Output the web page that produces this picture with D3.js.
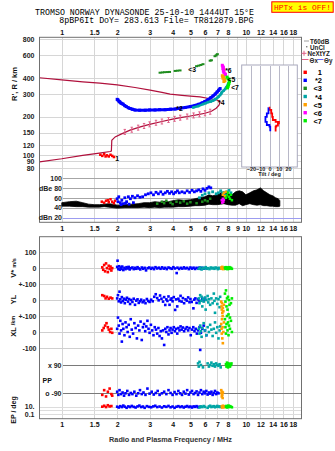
<!DOCTYPE html>
<html><head><meta charset="utf-8">
<script src="https://cdn.jsdelivr.net/npm/d3@7"></script>
<style>
html,body{margin:0;padding:0;background:#fff;}
svg{display:block;}
</style></head><body>
<svg id="c" width="335" height="451"></svg>
<script>
// ---------------- DATA ----------------
const titleLine1 = "TROMSO NORWAY   DYNASONDE 25-10-10 1444UT 15\u00B0E";
const titleLine2 = "8pBP6It DoY= 283.613 File= TR812879.BPG";
const warnText = "HPTx is OFF!";
const freqTicksOuter = [1,1.5,2,3,4,5,6,7,8,10,12,14,16,18];
const freqTicksMid = [1,1.5,2,3,4,5,6,7,8,9,10,12,14,16,18];
const heightTicks = [80,90,100,120,150,200,300,400,600,800];
const dbTicks = [100,80,60,40,20];
const dbLabels = {100:"100",80:"dBe 80",60:"60",40:"40",20:"dBn 20"};
const tiltTicks = [-20,-10,0,10,20];
const traceNames = ["1","*2","<3","*4","<5","<6","<7"];
const traceColors = ["#ff0000","#0000ff","#1e8c1e","#00a5a5","#ffa000","#ff00ff","#00ee00"];

// ionogram (freq MHz, height km)
const profileLower = [[0.757,89],[1.0,94],[1.3,100],[1.6,104],[1.83,107],[1.86,108],[1.87,131],[1.95,139],[2.1,146],[2.35,157],[2.7,167],[3.0,174],[3.5,183],[4.0,191],[4.5,197],[5.0,202],[5.5,207],[6.0,212],[6.5,220],[6.9,232],[7.15,245],[7.25,261]];
const profileUpper = [[0.757,400],[1.0,385],[1.3,372],[1.61,364],[2.0,352],[2.5,336],[3.02,321],[3.5,308],[3.88,299],[4.5,292],[5.0,288],[5.64,284],[6.3,276],[6.96,269],[7.25,261]];
const profileMarks = [[2.2,152],[2.4,158],[2.6,164],[2.8,169],[3.0,174],[3.25,179],[3.5,183],[3.8,188],[4.1,192],[4.4,196],[4.8,200],[5.2,204],[5.6,208],[6.0,212],[6.4,218]];
const ionoRed = [[1.62,101],[1.66,99],[1.7,102],[1.73,98],[1.76,100],[1.8,98],[1.84,101],[1.88,99],[1.92,97]];
const ionoBlue = [[2.0,272],[2.02,269],[2.05,262],[2.07,259],[2.1,254],[2.15,250],[2.2,243],[2.24,239],[2.3,234],[2.35,231],[2.42,228],[2.5,225],[2.65,224],[2.84,224],[3.0,225],[3.21,225],[3.4,226],[3.64,226],[3.9,228],[4.13,229],[4.4,232],[4.68,235],[5.0,239],[5.3,244],[5.55,249],[5.79,255],[6.0,262],[6.24,271],[6.45,280],[6.64,289],[6.82,299],[6.98,310],[7.12,320],[7.25,330]];
const ionoGreen = [[3.42,438],[3.52,440],[3.62,442],[3.75,443],[3.85,444],[4.13,452],[4.25,454],[4.39,456],[5.4,492],[5.55,497],[5.7,503],[5.85,510],[6.4,543],[6.5,547],[6.8,588],[6.9,598],[7.0,610]];
const ionoTeal = [[5.17,235],[5.51,241],[5.86,250],[6.05,254],[6.24,259],[6.45,262],[6.64,266],[6.8,272],[6.98,279],[7.12,286],[7.25,294],[7.35,302],[7.42,310],[7.58,318],[7.72,327],[7.82,336],[7.92,345],[8.0,355],[8.05,364]];
const ionoOrange = [[7.45,415],[7.5,408],[7.6,402],[7.52,396],[7.65,388],[7.7,380],[7.6,374]];
const ionoMagenta = [[7.45,500],[7.5,490],[7.55,480],[7.5,470],[7.6,460],[7.55,450],[7.6,440],[7.7,430],[7.75,424]];
const ionoLime = [[7.9,405],[8.0,396],[8.1,386],[8.15,374],[8.1,362],[8.05,352],[8.0,342],[7.95,334]];
const ionoLabels = [[1.95,90,"1"],[4.19,221,"*2"],[4.86,443,"<3"],[7.07,246,"*4"],[7.72,432,"*6"],[7.96,374,"<5"],[8.32,324,"<7"]];

// tilt inset (height km, tilt deg)
const tiltX = [[234,-0.8],[225,0],[212,1.9],[199,2.9],[188,3.6],[182,6.6],[177,10.2],[170,9.1],[167,7.3],[153,6.6]];
const tiltY = [[232,-0.8],[212,-1.1],[199,-2.9],[194,-4.4],[182,-4.4],[172,-2.9],[167,0],[154,0.8]];

// amplitude panel: noise envelope (freq, low dB, high dB)
const noise = [[1.0,43,50],[1.1,43,52],[1.2,42,53],[1.3,42,50],[1.4,41,47],[1.5,41,46],[1.6,41,46],[1.7,42,47],[1.8,41,48],[1.9,40,47],[2.0,39,45],[2.2,40,46],[2.4,40,47],[2.6,40,48],[2.8,41,50],[3.0,40,50],[3.2,41,52],[3.4,40,51],[3.6,41,53],[3.8,41,52],[4.0,41,54],[4.3,42,56],[4.6,42,55],[5.0,43,56],[5.3,44,58],[5.6,44,60],[6.0,45,62],[6.3,47,66],[6.6,46,64],[7.0,46,66],[7.3,47,70],[7.6,48,72],[8.0,46,68],[8.4,45,66],[8.8,45,72],[9.2,48,74],[9.6,44,72],[10.0,46,66],[10.5,48,70],[11.0,46,74],[11.5,45,76],[12.0,46,80],[12.5,44,74],[13.0,44,70],[13.5,43,66],[14.0,43,64],[14.5,42,60],[15.0,42,58],[15.3,43,54]];
const dbRed = [[1.65,52],[1.7,50],[1.74,54],[1.78,55],[1.8,51],[1.84,57],[1.88,52],[1.92,49],[1.95,54]];
const dbBlue = [[2.0,58],[2.02,52],[2.04,62],[2.08,50],[2.1,46],[2.12,55],[2.16,48],[2.2,60],[2.22,49],[2.25,52],[2.3,62],[2.32,47],[2.36,58],[2.42,63],[2.45,50],[2.5,60],[2.58,64],[2.66,61],[2.75,62],[2.85,66],[2.95,68],[3.05,70],[3.15,66],[3.25,71],[3.35,68],[3.45,72],[3.55,67],[3.65,70],[3.75,73],[3.85,69],[3.95,72],[4.05,68],[4.15,71],[4.25,74],[4.35,70],[4.5,72],[4.65,70],[4.8,74],[4.95,71],[5.1,75],[5.25,72],[5.4,74],[5.55,76],[5.7,73],[5.85,78],[6.0,75],[6.15,79],[6.3,82],[6.45,80]];
const dbGreen = [[3.3,48],[3.5,52],[3.6,49],[3.7,54],[3.9,50],[4.0,47],[4.2,52],[4.4,50],[4.6,53],[4.8,48],[5.0,51],[5.4,49],[5.8,52],[6.0,55],[6.2,53],[6.4,58]];
const dbTeal = [[5.6,60],[5.8,65],[6.0,68],[6.3,70],[6.6,72],[6.9,68],[7.1,70],[7.3,74],[7.5,70],[7.7,66],[7.9,72],[8.1,75],[8.3,70]];
const dbMagenta = [[7.4,55],[7.45,50],[7.5,58],[7.55,52],[7.6,56]];
const dbOrange = [[7.5,66],[7.6,70],[7.7,63],[7.8,72]];
const dbLime = [[7.8,60],[7.9,65],[8.0,70],[8.1,62],[8.2,58],[8.3,66],[8.4,55]];

// lower panel: V* (m/s), YL, XL (km), PP (deg), EP (deg)
const vRed = [[1.66,5],[1.68,-10],[1.7,20],[1.72,-20],[1.74,30],[1.76,0],[1.78,-25],[1.8,15],[1.82,-5],[1.84,10],[1.86,-15],[1.88,0]];
const vBlue = [[2.0,8],[2.01,47],[2.03,-6],[2.05,12],[2.07,-10],[2.09,4],[2.11,-4],[2.13,10],[2.16,-12],[2.19,2],[2.22,-6],[2.25,6],[2.28,-2],[2.31,8],[2.34,-8],[2.38,0],[2.42,4],[2.46,-6],[2.5,2],[2.54,-4],[2.58,6],[2.62,-2],[2.67,-8],[2.72,4],[2.77,-4],[2.82,2],[2.87,-14],[2.93,0],[2.99,4],[3.05,-4],[3.11,2],[3.17,-6],[3.23,6],[3.3,-2],[3.37,3],[3.44,-4],[3.51,5],[3.58,-3],[3.65,2],[3.72,-6],[3.8,4],[3.88,0],[3.96,-4],[4.04,6],[4.12,-2],[4.21,-31],[4.25,3],[4.34,-5],[4.43,2],[4.52,-3],[4.61,5],[4.7,-2],[4.8,2],[4.9,-6],[5.0,4],[5.1,-3],[5.2,3],[5.3,-5],[5.4,2],[5.5,-2],[5.6,4],[5.7,-4],[5.8,2],[5.9,-3],[6.0,0]];
const vTeal = [[5.55,-4],[5.65,4],[5.75,-8],[5.85,2],[5.95,-2],[6.05,6],[6.15,-4],[6.25,0],[6.35,-6],[6.45,4],[6.55,-2],[6.65,2],[6.75,-4],[6.85,4],[6.95,0],[7.05,-6],[7.15,2],[7.25,-2]];
const vOrange = [[7.35,4],[7.4,-4],[7.45,8],[7.5,0],[7.55,-6],[7.6,2]];
const vLime = [[7.7,4],[7.75,-4],[7.8,6],[7.85,-2],[7.9,2],[7.95,-6],[8.0,4],[8.05,0],[8.1,-4],[8.15,6],[8.2,-2],[8.3,2],[8.4,-4]];

const ylRed = [[1.66,30],[1.7,25],[1.73,10],[1.76,20],[1.8,8],[1.84,15],[1.88,10]];
const ylBlue = [[2.0,10],[2.02,30],[2.04,-8],[2.06,52],[2.08,4],[2.1,-15],[2.12,18],[2.15,-6],[2.18,8],[2.2,-20],[2.23,2],[2.26,14],[2.29,-10],[2.32,6],[2.35,-25],[2.38,0],[2.42,-12],[2.46,8],[2.5,-30],[2.54,-4],[2.58,4],[2.62,-18],[2.66,-8],[2.7,2],[2.75,-14],[2.8,-4],[2.85,-20],[2.9,6],[2.95,-6],[3.0,-12],[3.06,2],[3.12,-8],[3.18,20],[3.24,36],[3.3,12],[3.36,-2],[3.42,28],[3.48,8],[3.55,-10],[3.6,18],[3.65,-31],[3.7,4],[3.75,-6],[3.8,22],[3.85,-30],[3.9,2],[3.95,10],[4.0,-8],[4.06,18],[4.13,-62],[4.18,4],[4.24,-40],[4.3,8],[4.36,-6],[4.42,26],[4.48,-10],[4.55,12],[4.62,-20],[4.7,4],[4.78,-4],[4.86,16],[4.94,-14],[5.0,6],[5.08,-12],[5.19,-52],[5.24,2],[5.32,10],[5.4,-18],[5.5,4],[5.6,-6],[5.8,8],[5.9,-4],[6.0,12]];
const ylTeal = [[5.55,10],[5.6,-20],[5.65,30],[5.7,-5],[5.75,20],[5.8,-40],[5.85,5],[5.9,-10],[6.0,15],[6.05,-60],[6.1,0],[6.2,25],[6.25,-15],[6.3,5],[6.4,-30],[6.5,10],[6.6,-20],[6.7,40],[6.75,-5],[6.8,-80],[6.9,10],[7.0,-25],[7.1,5],[7.2,-45],[7.25,20]];
const ylOrange = [[7.35,-10],[7.38,-40],[7.4,-60],[7.42,-20],[7.45,-80],[7.48,-100],[7.5,-50],[7.55,-70],[7.6,-30]];
const ylLime = [[7.7,40],[7.75,-10],[7.8,60],[7.85,-40],[7.9,10],[7.95,-60],[8.0,20],[8.05,-90],[8.1,0],[8.15,-30],[8.2,-110],[8.3,-20],[8.4,10]];

const xlRed = [[1.66,10],[1.69,25],[1.72,40],[1.75,55],[1.78,30],[1.8,15],[1.83,0],[1.86,20],[1.88,-5]];
const xlBlue = [[2.0,20],[2.02,90],[2.04,40],[2.06,-10],[2.08,70],[2.1,10],[2.12,-60],[2.14,50],[2.16,20],[2.19,-20],[2.22,60],[2.25,30],[2.28,0],[2.31,45],[2.34,-30],[2.37,80],[2.4,15],[2.44,-10],[2.48,55],[2.52,25],[2.56,-40],[2.6,40],[2.64,10],[2.68,65],[2.72,-50],[2.76,30],[2.8,50],[2.84,5],[2.88,35],[2.92,70],[2.96,20],[3.0,-5],[3.05,45],[3.1,10],[3.15,-20],[3.2,30],[3.25,15],[3.3,-10],[3.35,25],[3.4,-25],[3.45,5],[3.5,-40],[3.55,10],[3.6,-81],[3.65,20],[3.7,0],[3.75,30],[3.8,-15],[3.85,10],[3.9,25],[3.95,-5],[4.0,15],[4.06,30],[4.12,5],[4.18,20],[4.24,-10],[4.3,25],[4.36,10],[4.42,35],[4.48,15],[4.55,28],[4.62,5],[4.7,20],[4.78,30],[4.86,10],[4.94,25],[5.02,-20],[5.1,15],[5.18,30],[5.26,5],[5.34,20],[5.42,-10],[5.5,10],[5.6,30],[5.65,-112],[5.7,-5],[5.8,20],[5.9,40],[6.0,10],[6.1,-20]];
const xlTeal = [[5.55,20],[5.6,-10],[5.65,40],[5.7,5],[5.75,-30],[5.8,25],[5.9,55],[6.0,10],[6.1,-20],[6.2,30],[6.3,0],[6.4,45],[6.5,15],[6.6,-25],[6.7,20],[6.8,60],[6.9,-5],[7.0,30],[7.1,-40],[7.2,10],[7.25,35]];
const xlOrange = [[7.35,50],[7.38,20],[7.4,-10],[7.42,80],[7.45,-40],[7.48,30],[7.5,-70],[7.55,0],[7.6,60]];
const xlLime = [[7.7,80],[7.75,30],[7.8,-10],[7.85,50],[7.9,100],[7.95,10],[8.0,60],[8.05,-20],[8.1,40],[8.2,20],[8.3,70],[8.4,0]];

const ppRed = [[1.66,-100],[1.7,-70],[1.74,-110],[1.78,-80],[1.82,-60],[1.86,-95],[1.88,-105]];
const ppBlue = [[2.0,-80],[2.03,-100],[2.06,-70],[2.1,-95],[2.14,-85],[2.18,-105],[2.22,-90],[2.27,-75],[2.32,-100],[2.37,-88],[2.42,-95],[2.48,-80],[2.54,-105],[2.6,-90],[2.66,-70],[2.72,-95],[2.78,-85],[2.85,-100],[2.92,-60],[3.0,-92],[3.08,-80],[3.16,-98],[3.24,-88],[3.32,-75],[3.4,-100],[3.5,-90],[3.6,-80],[3.7,-95],[3.8,-70],[3.9,-88],[4.0,-100],[4.1,-82],[4.2,-95],[4.3,-75],[4.4,-90],[4.5,-100],[4.6,-80],[4.7,-92],[4.8,-70],[4.9,-98],[5.0,-85],[5.1,-75],[5.2,-95],[5.3,-88],[5.4,-78],[5.5,-100],[5.6,-85],[5.7,-70],[5.8,-95],[5.9,-80],[6.0,-90],[6.1,-75],[6.2,-98],[6.3,-85],[6.4,-92],[6.5,-80],[6.6,-100],[6.7,-88],[6.8,-75],[6.9,-95],[7.0,-85],[7.1,-90]];
const ppOrange = [[7.35,-70],[7.38,-90],[7.4,-110],[7.42,-80],[7.45,-100],[7.48,-120],[7.5,-85]];
const ppTeal = [[5.5,100],[5.55,80],[5.6,110],[5.7,90],[5.85,75],[6.2,100],[6.3,80],[6.4,90],[6.5,105],[6.6,85],[6.7,95],[6.8,80],[6.9,100],[7.0,90],[7.1,85],[7.2,95],[7.3,75]];
const ppLime = [[7.8,95],[7.85,80],[7.9,105],[7.95,90],[8.0,75],[8.05,100],[8.1,85],[8.15,95],[8.2,80],[8.3,90],[8.35,100]];

const epRed = [[1.66,10],[1.7,18],[1.74,8],[1.78,25],[1.82,12],[1.86,15]];
const epBlue = [[2.0,10],[2.04,6],[2.08,14],[2.12,8],[2.16,20],[2.2,10],[2.25,5],[2.3,12],[2.35,8],[2.4,16],[2.46,9],[2.52,6],[2.58,12],[2.64,20],[2.7,8],[2.76,11],[2.82,5],[2.9,14],[2.98,9],[3.06,7],[3.14,12],[3.22,18],[3.3,8],[3.4,11],[3.5,6],[3.6,13],[3.7,9],[3.8,16],[3.9,7],[4.0,11],[4.1,5],[4.2,10],[4.3,14],[4.4,8],[4.5,12],[4.6,6],[4.7,10],[4.8,15],[4.9,8],[5.0,11],[5.1,6],[5.2,12],[5.3,9],[5.4,14],[5.5,7],[5.6,10]];
const epTeal = [[5.6,6],[5.7,12],[5.8,8],[5.9,15],[6.0,9],[6.2,5],[6.3,12],[6.4,18],[6.5,8],[6.6,11],[6.7,14],[6.8,7],[6.9,10],[7.0,16],[7.1,9],[7.2,12],[7.3,8]];
const epOrange = [[7.4,12],[7.45,6],[7.5,18],[7.55,9],[7.6,14],[7.65,7]];
const epLime = [[7.8,10],[7.85,16],[7.9,6],[8.0,12],[8.05,20],[8.1,8],[8.2,14],[8.3,10],[8.4,7]];

// ---------------- DRAW ----------------
const FONT = "'Liberation Sans', Arial, sans-serif";
const MONO = "'Liberation Mono', 'DejaVu Sans Mono', monospace";
const svg = d3.select("#c");
svg.append("rect").attr("width",335).attr("height",451).attr("fill","#fff");

const L = 39.5, R = 301.5;
const topY0 = 37.3, topY1 = 222.3, lowY0 = 236.7, lowY1 = 418.7;
const x = d3.scaleLog().domain([0.757, 20.06]).range([L, R]);
const yH = d3.scaleLog().domain([80, 800]).range([167.8, 39]);
const yDb = d3.scaleLinear().domain([20, 100]).range([217.5, 178]);
const yV = d3.scaleLinear().domain([-100, 100]).range([284, 252.3]);
const yYL = d3.scaleLinear().domain([-100, 100]).range([316, 284]);
const yXL = d3.scaleLinear().domain([-100, 100]).range([348, 316]);
const yPP = d3.scaleLinear().domain([-90, 90]).range([393.3, 365]);
const yEP = d3.scaleLog().domain([0.1, 10]).range([414, 406.7]);
const xT = d3.scaleLinear().domain([-30, 30]).range([241.7, 297.3]);

function gridAxis(axis, tx, ty, color, w) {
  const g = svg.append("g").attr("transform", `translate(${tx},${ty})`).call(axis);
  g.select(".domain").remove();
  g.selectAll("text").remove();
  g.selectAll("line").attr("stroke", color).attr("stroke-width", w || 1).attr("shape-rendering", "crispEdges");
  return g;
}
function labelAxis(axis, tx, ty, size, weight, fill) {
  const g = svg.append("g").attr("transform", `translate(${tx},${ty})`).call(axis);
  g.select(".domain").remove();
  g.selectAll("line").remove();
  g.selectAll("text").attr("font-size", size).attr("font-family", FONT)
    .attr("font-weight", weight).attr("fill", fill);
  return g;
}
function dots(data, xs, ys, color, s) {
  svg.append("g").selectAll("rect").data(data).join("rect")
    .attr("x", d => xs(d[0]) - s / 2).attr("y", d => ys(d[1]) - s / 2)
    .attr("width", s).attr("height", s).attr("fill", color);
}

// --- top panel grid
gridAxis(d3.axisBottom(x).tickValues(freqTicksMid).tickSize(-(topY1 - topY0)).tickFormat(""), 0, topY1, "#d6d6d6");
gridAxis(d3.axisLeft(yH).tickValues(heightTicks).tickSize(-(R - L)).tickFormat(""), L, 0, "#d6d6d6");
gridAxis(d3.axisLeft(yDb).tickValues([100, 80, 60, 40]).tickSize(-(R - 63)).tickFormat(""), 63, 0, "#a6a6a6");
gridAxis(d3.axisLeft(yDb).tickValues([20]).tickSize(-(R - 63)).tickFormat(""), 63, 0, "#9c9cf0");

// --- lower panel grid
gridAxis(d3.axisBottom(x).tickValues(freqTicksMid).tickSize(-(lowY1 - lowY0)).tickFormat(""), 0, lowY1, "#d6d6d6");
gridAxis(d3.axisLeft(yV).tickValues([100, 0, -100]).tickSize(-(R - L)).tickFormat(""), L, 0, "#cfcfcf");
gridAxis(d3.axisLeft(yYL).tickValues([0, -100]).tickSize(-(R - L)).tickFormat(""), L, 0, "#cfcfcf");
gridAxis(d3.axisLeft(yXL).tickValues([0, -100]).tickSize(-(R - L)).tickFormat(""), L, 0, "#cfcfcf");
gridAxis(d3.axisLeft(yPP).tickValues([90, -90]).tickSize(-(R - 63)).tickFormat(""), 63, 0, "#7a7a7a");
gridAxis(d3.axisLeft(yEP).tickValues([10, 1, 0.1]).tickSize(-(R - L)).tickFormat(""), L, 0, "#dcdcdc");

// --- ionogram lines
const lineFH = d3.line().x(d => x(d[0])).y(d => yH(d[1]));
svg.append("path").attr("d", lineFH(profileUpper)).attr("fill", "none").attr("stroke", "#b0103c").attr("stroke-width", 1.2);
svg.append("path").attr("d", lineFH(profileLower)).attr("fill", "none").attr("stroke", "#b0103c").attr("stroke-width", 1.2);
svg.append("g").selectAll("path").data(profileMarks).join("path")
  .attr("d", d => { const px = x(d[0]), py = yH(d[1]); return `M${px},${py - 2.5}V${py + 2.5}M${px - 1.2},${py - 2.5}H${px + 1.2}M${px - 1.2},${py + 2.5}H${px + 1.2}`; })
  .attr("stroke", "#e06088").attr("stroke-width", 1).attr("fill", "none");

svg.append("path").attr("d", lineFH(ionoBlue)).attr("fill", "none").attr("stroke", traceColors[1]).attr("stroke-width", 3);
dots(ionoBlue, x, yH, traceColors[1], 3);
svg.append("path").attr("d", lineFH(ionoTeal)).attr("fill", "none").attr("stroke", traceColors[3]).attr("stroke-width", 2.5);
dots(ionoTeal, x, yH, traceColors[3], 2.5);
dots(ionoRed, x, yH, traceColors[0], 2.5);
svg.append("g").selectAll("rect").data(ionoGreen).join("rect")
  .attr("x", d => x(d[0]) - 1.5).attr("y", d => yH(d[1]) - 1).attr("width", 3).attr("height", 2).attr("fill", traceColors[2]);
dots(ionoMagenta, x, yH, traceColors[5], 3);
dots(ionoOrange, x, yH, traceColors[4], 3);
dots(ionoLime, x, yH, traceColors[6], 3);
svg.append("g").selectAll("text").data(ionoLabels).join("text")
  .attr("x", d => x(d[0])).attr("y", d => yH(d[1])).text(d => d[2])
  .attr("font-family", FONT).attr("font-size", 6.8).attr("font-weight", "bold").attr("fill", "#000");

// --- tilt inset
svg.append("rect").attr("x", 241.7).attr("y", 65).attr("width", 55.6).attr("height", 102)
  .attr("fill", "#fff").attr("stroke", "#a8a8bc").attr("stroke-width", 1);
gridAxis(d3.axisBottom(xT).tickValues(tiltTicks).tickSize(-101).tickFormat(""), 0, 166.5, "#b8b8c8");
const lineTilt = d3.line().x(d => xT(d[1])).y(d => yH(d[0])).curve(d3.curveStepAfter);
svg.append("path").attr("d", lineTilt(tiltX)).attr("fill", "none").attr("stroke", "#ff0000").attr("stroke-width", 1.8);
svg.append("path").attr("d", lineTilt(tiltY)).attr("fill", "none").attr("stroke", "#0000ff").attr("stroke-width", 1.8);
labelAxis(d3.axisBottom(xT).tickValues(tiltTicks).tickSize(0).tickPadding(0), 0, 166.8, 5.5, "bold", "#222");
svg.append("text").attr("x", 269.5).attr("y", 176.3).attr("text-anchor", "middle").text("Tilt / deg")
  .attr("font-family", FONT).attr("font-size", 5.5).attr("font-weight", "bold").attr("fill", "#222");

// --- amplitude panel
const area = d3.area().x(d => x(d[0])).y0(d => yDb(d[1])).y1(d => yDb(d[2]));
svg.append("path").attr("d", area(noise)).attr("fill", "#000").attr("stroke", "#000").attr("stroke-width", 0.8);
dots(dbGreen, x, yDb, traceColors[2], 2.5);
dots(dbRed, x, yDb, traceColors[0], 2.5);
dots(dbBlue, x, yDb, traceColors[1], 2.8);
dots(dbTeal, x, yDb, traceColors[3], 2.8);
dots(dbMagenta, x, yDb, traceColors[5], 2.5);
dots(dbOrange, x, yDb, traceColors[4], 2.5);
dots(dbLime, x, yDb, traceColors[6], 2.5);

// --- lower panel points
const S = 2.6;
[[vRed, 0], [vBlue, 1], [vTeal, 3], [vOrange, 4], [vLime, 6]].forEach(([d, c]) => dots(d, x, yV, traceColors[c], S));
[[ylRed, 0], [ylBlue, 1], [ylTeal, 3], [ylOrange, 4], [ylLime, 6]].forEach(([d, c]) => dots(d, x, yYL, traceColors[c], S));
[[xlRed, 0], [xlBlue, 1], [xlTeal, 3], [xlOrange, 4], [xlLime, 6]].forEach(([d, c]) => dots(d, x, yXL, traceColors[c], S));
[[ppRed, 0], [ppBlue, 1], [ppTeal, 3], [ppOrange, 4], [ppLime, 6]].forEach(([d, c]) => dots(d, x, yPP, traceColors[c], S));
[[epRed, 0], [epBlue, 1], [epTeal, 3], [epOrange, 4], [epLime, 6]].forEach(([d, c]) => dots(d, x, yEP, traceColors[c], S));

// --- frames
svg.append("rect").attr("x", L).attr("y", topY0).attr("width", R - L).attr("height", topY1 - topY0)
  .attr("fill", "none").attr("stroke", "#707070").attr("stroke-width", 1);
svg.append("rect").attr("x", L).attr("y", lowY0).attr("width", R - L).attr("height", lowY1 - lowY0)
  .attr("fill", "none").attr("stroke", "#707070").attr("stroke-width", 1);

// --- axis labels
labelAxis(d3.axisBottom(x).tickValues(freqTicksOuter).tickSize(0).tickPadding(0).tickFormat(d3.format("")), 0, 30.3, 7, "bold", "#111");
labelAxis(d3.axisBottom(x).tickValues(freqTicksMid).tickSize(0).tickPadding(0).tickFormat(d3.format("")), 0, 225.7, 7, "bold", "#111");
labelAxis(d3.axisBottom(x).tickValues(freqTicksOuter).tickSize(0).tickPadding(0).tickFormat(d3.format("")), 0, 422, 7, "bold", "#111");
labelAxis(d3.axisLeft(yH).tickValues(heightTicks).tickSize(0).tickPadding(5).tickFormat(d3.format("d")), L, 0, 7, "bold", "#222");
labelAxis(d3.axisLeft(yDb).tickValues(dbTicks).tickSize(0).tickPadding(1).tickFormat(d => dbLabels[d]), 63, 0, 7, "bold", "#222");
labelAxis(d3.axisLeft(yV).tickValues([100, 0, -100]).tickSize(0).tickPadding(3).tickFormat(d => d === -100 ? "+-100" : String(d)), L, 0, 7, "bold", "#222");
labelAxis(d3.axisLeft(yYL).tickValues([0, -100]).tickSize(0).tickPadding(3).tickFormat(d => d === -100 ? "+-100" : String(d)), L, 0, 7, "bold", "#222");
labelAxis(d3.axisLeft(yXL).tickValues([0, -100]).tickSize(0).tickPadding(3).tickFormat(d => String(d)), L, 0, 7, "bold", "#222");
labelAxis(d3.axisLeft(yPP).tickValues([90, -90]).tickSize(0).tickPadding(1.5).tickFormat(d => d > 0 ? "x 90" : "o -90"), 63, 0, 7, "bold", "#222");
labelAxis(d3.axisLeft(yEP).tickValues([10, 0.1]).tickSize(0).tickPadding(5).tickFormat(d => d === 10 ? "10." : "0.1"), L, 0, 7, "bold", "#222");

function txt(x0, y0, s, size, opts) {
  opts = opts || {};
  const t = svg.append("text").attr("x", x0).attr("y", y0).text(s)
    .attr("font-family", opts.family || FONT).attr("font-size", size)
    .attr("font-weight", opts.weight || "bold").attr("fill", opts.fill || "#111")
    .attr("text-anchor", opts.anchor || "start");
  if (opts.rot) t.attr("transform", `rotate(-90,${x0},${y0})`);
  return t;
}
txt(42.5, 382.5, "PP", 7);
txt(16.5, 84, "R', R / km", 7.5, {anchor: "middle", rot: true});
const vt = txt(16, 268, "", 7.5, {anchor: "middle", rot: true});
vt.append("tspan").text("V* ");
vt.append("tspan").attr("font-size", 5.5).text("m/s");
txt(16, 299.5, "YL", 7.5, {anchor: "middle", rot: true});
txt(16, 332, "XL", 7.5, {anchor: "middle", rot: true});
txt(15, 320.5, "/km", 5.5, {anchor: "middle", rot: true});
txt(16, 410, "EP / deg", 7, {anchor: "middle", rot: true});
txt(170.5, 441.5, "Radio and Plasma Frequency / MHz", 7.3, {anchor: "middle", fill: "#333"});

// --- titles
txt(35, 15, titleLine1, 8.3, {family: MONO, weight: "normal", fill: "#000"});
txt(59.3, 22.7, titleLine2, 8.3, {family: MONO, weight: "normal", fill: "#000"});
svg.append("rect").attr("x", 271.8).attr("y", 1.8).attr("width", 61.4).attr("height", 10.5)
  .attr("fill", "#ffff00").attr("stroke", "#ff0000").attr("stroke-width", 1);
txt(302.5, 10.2, warnText, 7.9, {family: MONO, weight: "normal", fill: "#ff0000", anchor: "middle"});

// --- legend
const lg = svg.append("g");
lg.append("line").attr("x1", 304).attr("x2", 309).attr("y1", 41).attr("y2", 41).attr("stroke", "#a0a0a0").attr("stroke-width", 1);
txt(310, 43.5, "T60dB", 6.3, {fill: "#222"});
lg.append("rect").attr("x", 306.3).attr("y", 46.3).attr("width", 1).attr("height", 1).attr("fill", "#000");
txt(310, 50, "UnCl", 6.3, {fill: "#222"});
lg.append("path").attr("d", "M301.5,53.3H306.5M304,50.8V55.8").attr("stroke", "#e06088").attr("stroke-width", 1);
txt(307.5, 56.3, "NeXtYZ", 6.3, {fill: "#222"});
lg.append("line").attr("x1", 302).attr("x2", 308.5).attr("y1", 59.5).attr("y2", 59.5).attr("stroke", "#e06088").attr("stroke-width", 1);
txt(309.5, 62.5, "\u0398x", 6.3, {fill: "#222"});
lg.append("line").attr("x1", 318).attr("x2", 323.5).attr("y1", 59.5).attr("y2", 59.5).attr("stroke", "#6060ff").attr("stroke-width", 1);
txt(324, 62.5, "\u0398y", 6.3, {fill: "#222"});
const legY = [72.3, 80.3, 88.3, 96.5, 104.7, 112.7, 120.7];
traceNames.forEach((n, i) => {
  lg.append("rect").attr("x", 303.5).attr("y", legY[i] - 1.7).attr("width", 3.4).attr("height", 3.4).attr("fill", traceColors[i]);
  txt(322, legY[i] + 3, n, 7.5, {anchor: "end", fill: "#000"});
});
</script></body></html>
